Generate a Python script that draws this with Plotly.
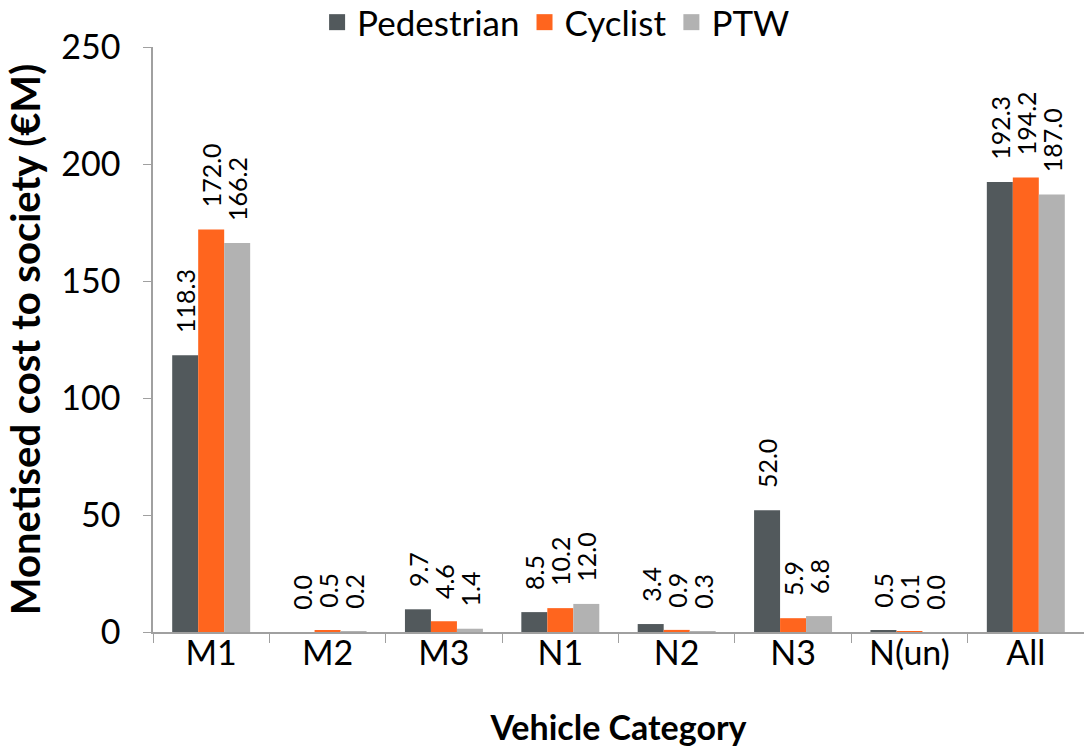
import plotly.graph_objects as go

categories = ["M1", "M2", "M3", "N1", "N2", "N3", "N(un)", "All"]
pedestrian = [118.3, 0.0, 9.7, 8.5, 3.4, 52.0, 0.5, 192.3]
cyclist = [172.0, 0.5, 4.6, 10.2, 0.9, 5.9, 0.1, 194.2]
ptw = [166.2, 0.2, 1.4, 12.0, 0.3, 6.8, 0.0, 187.0]

series = [
    ("Pedestrian", pedestrian, "#52595C"),
    ("Cyclist", cyclist, "#FF651E"),
    ("PTW", ptw, "#B2B2B2"),
]

font_family = "Lato, Open Sans, sans-serif"
NB = "\u00a0"

fig = go.Figure()
for name, vals, col in series:
    fig.add_trace(go.Bar(
        name=name, x=categories, y=vals, showlegend=False,
        marker=dict(color=col, line=dict(width=0)),
        text=[NB * 3 + f"{v:.1f}" for v in vals],
        textposition="outside", textangle=-90,
        constraintext="none", cliponaxis=False,
        textfont=dict(size=25, color="#000000", family=font_family),
    ))
# legend entries with larger square swatches
for name, vals, col in series:
    fig.add_trace(go.Scatter(
        name=name, x=[None], y=[None], mode="markers",
        marker=dict(symbol="square", size=22, color=col),
        showlegend=True,
    ))

fig.update_layout(
    width=1084, height=747,
    barmode="group", bargap=0.33, bargroupgap=0,
    plot_bgcolor="white", paper_bgcolor="white",
    margin=dict(l=153, r=0, t=47, b=115, autoexpand=False),
    font=dict(family=font_family, color="#000000"),
    legend=dict(orientation="h", xref="container", x=0.513, xanchor="center",
                yref="container", y=0.970, yanchor="middle",
                font=dict(size=35), traceorder="normal", itemwidth=30),
    xaxis=dict(
        title=dict(text="<b>Vehicle Category</b>", font=dict(size=34), standoff=46),
        tickfont=dict(size=34), ticklabelstandoff=-10,
        showline=True, linecolor="#A0A0A0", linewidth=1.5,
        ticks="outside", tickson="boundaries", ticklen=9, tickcolor="#A0A0A0",
        showgrid=False,
    ),
    yaxis=dict(
        title=dict(text="<b>Monetised cost to society (€M)</b>", font=dict(size=40), standoff=8),
        range=[0, 250], dtick=50, tickfont=dict(size=34), ticklabelstandoff=16,
        showline=True, linecolor="#A0A0A0", linewidth=1.5,
        ticks="outside", ticklen=8, tickcolor="#A0A0A0",
        showgrid=False, zeroline=False,
    ),
)

fig.write_html("out.html", config={"displayModeBar": False},
               post_script="document.body.style.margin='0';")
